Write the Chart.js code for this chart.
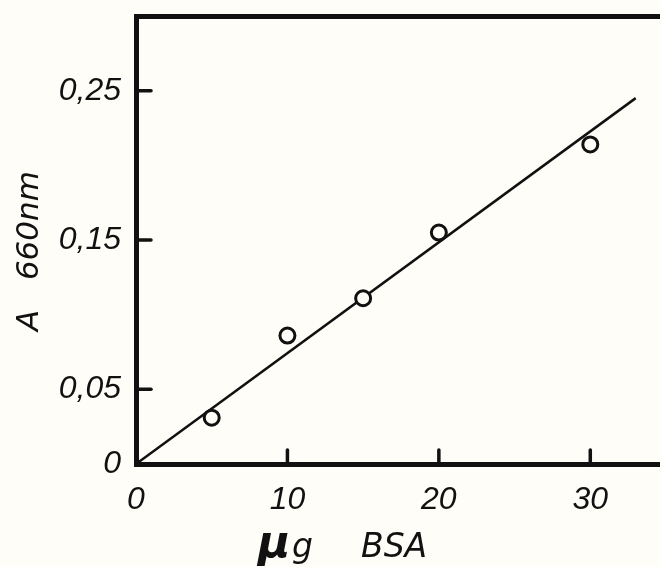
<!DOCTYPE html>
<html>
<head>
<meta charset="utf-8">
<title>A 660nm vs µg BSA</title>
<script src="https://cdn.jsdelivr.net/npm/chart.js@4.4.1/dist/chart.umd.min.js"></script>
<style>
  html, body { margin: 0; padding: 0; background: #fefdf8; overflow: hidden; }
  #wrap { width: 660px; height: 567px; overflow: hidden; }
  canvas { display: block; }
</style>
</head>
<body>
<div id="wrap"><canvas id="c" width="666" height="567"></canvas></div>
<script>
// Protein standard: absorbance at 660 nm against µg BSA
const doseUg = [5, 10, 15, 20, 30];
const absorbance = [0.031, 0.086, 0.111, 0.155, 0.214];

// fitted calibration line (through origin)
const fitX = [0, 33];
const fitY = [0, 0.245];

// axis tick values
const xTickValues = [0, 10, 20, 30];
const yTickValues = [0, 0.05, 0.15, 0.25];

const INK = '#111111';
const PAPER = '#fefdf8';
const tickFont = { family: '"Liberation Sans", Arial, sans-serif', size: 32, style: 'italic' };

// short tick marks pointing into the plot area
const innerTicks = {
  id: 'innerTicks',
  afterDatasetsDraw(chart) {
    const { ctx, chartArea, scales } = chart;
    ctx.save();
    ctx.strokeStyle = INK;
    ctx.lineWidth = 3.5;
    ctx.lineCap = 'round';
    xTickValues.filter(v => v > 0).forEach(v => {
      const px = scales.x.getPixelForValue(v);
      ctx.beginPath();
      ctx.moveTo(px, chartArea.bottom);
      ctx.lineTo(px, chartArea.bottom - 14);
      ctx.stroke();
    });
    yTickValues.filter(v => v > 0).forEach(v => {
      const py = scales.y.getPixelForValue(v);
      ctx.beginPath();
      ctx.moveTo(chartArea.left, py);
      ctx.lineTo(chartArea.left + 15, py);
      ctx.stroke();
    });
    ctx.restore();
  }
};

// axis titles in lettering style
const axisTitles = {
  id: 'axisTitles',
  afterDraw(chart) {
    const { ctx } = chart;
    ctx.save();
    ctx.fillStyle = INK;
    ctx.textBaseline = 'alphabetic';

    // y title, rotated
    ctx.save();
    ctx.translate(38, 251);
    ctx.rotate(-Math.PI / 2);
    ctx.font = 'italic 31px "DejaVu Sans", sans-serif';
    ctx.textAlign = 'center';
    ctx.fillText('A   660nm', 0, 0);
    ctx.restore();

    // x title: bold µ followed by "g" and "BSA"
    const base = 557;
    ctx.textAlign = 'left';
    ctx.font = 'italic bold 44px "DejaVu Sans", sans-serif';
    ctx.fillText('\u03bc', 258, base);
    ctx.font = 'italic 33px "DejaVu Sans", sans-serif';
    ctx.fillText('g', 292, base);
    ctx.fillText('BSA', 361, base);
    ctx.restore();
  }
};

const noPadX = s => { s.paddingLeft = 0; s.paddingRight = 0; };
const noPadY = s => { s.paddingTop = 0; s.paddingBottom = 0; };

new Chart(document.getElementById('c'), {
  data: {
    datasets: [
      {
        type: 'scatter',
        data: doseUg.map((x, i) => ({ x, y: absorbance[i] })),
        pointRadius: 7.5,
        pointBorderWidth: 3,
        pointBorderColor: INK,
        pointBackgroundColor: PAPER,
        order: 0
      },
      {
        type: 'line',
        data: fitX.map((x, i) => ({ x, y: fitY[i] })),
        borderColor: INK,
        borderWidth: 2.5,
        pointRadius: 0,
        fill: false,
        order: 1
      }
    ]
  },
  options: {
    responsive: false,
    animation: false,
    devicePixelRatio: 1,
    layout: { padding: 0, autoPadding: false },
    plugins: { legend: { display: false }, tooltip: { enabled: false } },
    scales: {
      x: {
        type: 'linear',
        position: 'bottom',
        min: 0,
        max: 35,
        afterBuildTicks: s => { s.ticks = xTickValues.map(value => ({ value })); },
        afterFit: s => { s.height = 103; noPadX(s); },
        grid: { display: false },
        border: { display: true, color: INK, width: 5 },
        ticks: { color: INK, font: tickFont, padding: 9, maxRotation: 0, autoSkip: false }
      },
      xTop: {
        type: 'linear',
        position: 'top',
        min: 0,
        max: 35,
        afterFit: s => { s.height = 16; noPadX(s); },
        grid: { display: false },
        border: { display: true, color: INK, width: 5 },
        ticks: { display: false }
      },
      y: {
        type: 'linear',
        position: 'left',
        min: 0,
        max: 0.3,
        afterBuildTicks: s => { s.ticks = yTickValues.map(value => ({ value })); },
        afterFit: s => { s.width = 136; noPadY(s); },
        grid: { display: false },
        border: { display: true, color: INK, width: 5 },
        ticks: {
          color: INK,
          font: tickFont,
          padding: 7,
          autoSkip: false,
          callback: v => (v === 0 ? '0' : v.toFixed(2).replace('.', ','))
        }
      }
    }
  },
  plugins: [innerTicks, axisTitles]
});
</script>
</body>
</html>
